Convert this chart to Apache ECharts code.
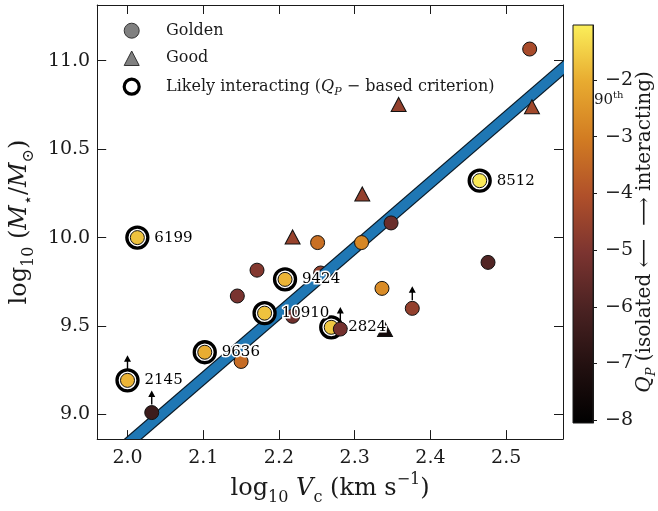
<!DOCTYPE html>
<html><head><meta charset="utf-8">
<script src="https://cdn.jsdelivr.net/npm/echarts@6/dist/echarts.min.js"></script>
<style>html,body{margin:0;padding:0;background:#fff}#c{width:658px;height:511px}</style>
</head><body><div id="c"></div>
<script>
// ---------- data ----------
const xTicks = [2.0, 2.1, 2.2, 2.3, 2.4, 2.5];
const yTicks = [9.0, 9.5, 10.0, 10.5, 11.0];
const cbTicks = [-8, -7, -6, -5, -4, -3, -2];

// regular (non-interacting) galaxies
const regX    = [2.032, 2.145, 2.150, 2.171, 2.218, 2.218, 2.251, 2.309, 2.348, 2.310, 2.281, 2.336, 2.340, 2.376, 2.531, 2.534, 2.358, 2.476, 2.255];
const regY    = [9.011, 9.670, 9.300, 9.816, 9.555, 10.004, 9.972, 9.972, 10.083, 10.247, 9.483, 9.713, 9.480, 9.600, 11.066, 10.740, 10.753, 9.860, 9.800];
const regQ    = [-6.4, -5.1, -3.4, -4.9, -5.3, -4.5, -3.3, -2.8, -5.4, -4.6, -5.2, -2.7, -7.5, -4.6, -4.2, -4.3, -4.6, -5.9, -4.6];
const regType = ['golden','golden','golden','golden','golden','good','golden','golden','golden','good','golden','golden','good','golden','golden','good','good','golden','golden'];
const regLimit= [1,0,0,0,0,0,0,0,0,0,1,0,0,1,0,0,0,0,0];
const regBelowLine = [0,0,0,0,0,0,0,0,0,0,0,0,0,0,0,0,0,0,1];

// likely interacting galaxies
const intName = ['6199', '9636', '2145', '9424', '10910', '2824', '8512'];
const intX    = [2.013, 2.102, 2.000, 2.208, 2.181, 2.269, 2.465];
const intY    = [10.000, 9.352, 9.193, 9.764, 9.573, 9.493, 10.322];
const intQ    = [-1.7, -2.0, -1.9, -1.9, -1.7, -1.6, -1.1];
const intLimit= [0, 0, 1, 0, 0, 0, 0];

// fitted relation (end points)
const fitX = [1.95, 2.60];
const fitY = [8.65, 11.05];

// colour map
const qMin = -8.05, qMax = -1.03;
const cmapColors = ['#000000', '#221010', '#4a2222', '#7c3430', '#b0502a', '#d27c22', '#e8ab30', '#fbef5a'];

// ---------- chart ----------
const FONT = 'DejaVu Serif';
const INK = '#1a1a1a';
const chart = echarts.init(document.getElementById('c'), null, {renderer: 'canvas'});

function regItem(i) {
  const good = regType[i] === 'good';
  return {value: [regX[i], regY[i], regQ[i]], symbol: good ? 'triangle' : 'circle', symbolSize: good ? [15, 14] : 14};
}
const regAbove = [], regBelow = [];
regX.forEach((_, i) => (regBelowLine[i] ? regBelow : regAbove).push(regItem(i)));
const intData = intX.map((x, i) => ({value: [x, intY[i], intQ[i]], name: intName[i]}));
const arrowPath = 'path://M3.5,0 L7,6.5 L4.2,6.5 L4.2,14 L2.8,14 L2.8,6.5 L0,6.5 Z';
const arrows = [];
regX.forEach((x, i) => { if (regLimit[i]) arrows.push({value: [x, regY[i]], symbolOffset: [0, -15]}); });
intX.forEach((x, i) => { if (intLimit[i]) arrows.push({value: [x, intY[i]], symbolOffset: [0, -18]}); });

const richBig = {
  n: {fontFamily: FONT, fontSize: 24, color: INK, lineHeight: 34},
  i: {fontFamily: FONT, fontSize: 24, color: INK, lineHeight: 34, fontStyle: 'italic'},
  s: {fontFamily: FONT, fontSize: 16, color: INK, lineHeight: 20, verticalAlign: 'bottom'},
  p: {fontFamily: FONT, fontSize: 16, color: INK, lineHeight: 20, verticalAlign: 'top'}
};
const stops = cmapColors.map((c, i) => ({offset: i / (cmapColors.length - 1), color: c}));

const axisCommon = {
  type: 'value',
  axisLine: {show: true, onZero: false, lineStyle: {color: INK, width: 1}},
  splitLine: {show: false}
};

const option = {
  animation: false,
  backgroundColor: '#fff',
  grid: [
    {left: 96, right: 95, top: 5, bottom: 70},
    {left: 573, width: 20, top: 25, height: 398}
  ],
  xAxis: [
    Object.assign({}, axisCommon, {
      gridIndex: 0, position: 'bottom', min: 1.96, max: 2.575,
      axisTick: {inside: true, length: 9, customValues: xTicks, lineStyle: {color: INK}},
      axisLabel: {customValues: xTicks, formatter: v => v.toFixed(1), fontFamily: FONT, fontSize: 19, color: INK, margin: 9},
      name: '{n|log}{s|10}{n| }{i|V}{s|c}{n| (km s}{p|−1}{n|)}',
      nameLocation: 'middle', nameGap: 31,
      nameTextStyle: {rich: richBig}
    }),
    Object.assign({}, axisCommon, {
      gridIndex: 0, position: 'top', min: 1.96, max: 2.575,
      axisTick: {inside: true, length: 9, customValues: xTicks, lineStyle: {color: INK}},
      axisLabel: {show: false}
    }),
    {type: 'value', gridIndex: 1, min: 0, max: 1, show: false}
  ],
  yAxis: [
    Object.assign({}, axisCommon, {
      gridIndex: 0, position: 'left', min: 8.861, max: 11.315,
      axisTick: {inside: true, length: 9, customValues: yTicks, lineStyle: {color: INK}},
      axisLabel: {customValues: yTicks, formatter: v => v.toFixed(1), fontFamily: FONT, fontSize: 19, color: INK, margin: 7},
      name: '{n|log}{s|10}{n| (}{i|M}{s|⋆}{n|/}{i|M}{s|⊙}{n|)}',
      nameLocation: 'middle', nameGap: 56,
      nameTextStyle: {rich: richBig}
    }),
    Object.assign({}, axisCommon, {
      gridIndex: 0, position: 'right', min: 8.861, max: 11.315,
      axisTick: {inside: true, length: 9, customValues: yTicks, lineStyle: {color: INK}},
      axisLabel: {show: false}
    }),
    Object.assign({}, axisCommon, {
      gridIndex: 1, position: 'right', min: qMin, max: qMax,
      axisTick: {inside: false, length: 4, customValues: cbTicks, lineStyle: {color: INK}},
      axisLabel: {customValues: cbTicks, formatter: v => '−' + Math.abs(v), fontFamily: FONT, fontSize: 19, color: INK, margin: 12}
    })
  ],
  visualMap: {
    type: 'continuous', show: false, min: qMin, max: qMax, dimension: 2,
    seriesIndex: [0, 3, 4], inRange: {color: cmapColors}
  },
  series: [
    { // 0 points below the relation
      type: 'scatter', xAxisIndex: 0, yAxisIndex: 0, z: 2, data: regBelow,
      itemStyle: {borderColor: '#111', borderWidth: 1, opacity: 1}
    },
    { // 1 fitted relation band
      type: 'custom', xAxisIndex: 0, yAxisIndex: 0, z: 3, clip: true, silent: true,
      data: [[fitX[0], fitY[0], fitX[1], fitY[1]]],
      renderItem: (params, api) => {
        const a = api.coord([api.value(0), api.value(1)]);
        const b = api.coord([api.value(2), api.value(3)]);
        return {type: 'group', children: [
          {type: 'line', shape: {x1: a[0], y1: a[1], x2: b[0], y2: b[1]}, style: {stroke: '#0b1a26', lineWidth: 12}},
          {type: 'line', shape: {x1: a[0], y1: a[1], x2: b[0], y2: b[1]}, style: {stroke: '#1f77b4', lineWidth: 9.6}}
        ]};
      }
    },
    { // 2 rings of interacting galaxies
      type: 'scatter', xAxisIndex: 0, yAxisIndex: 0, z: 4, silent: true,
      data: intData.map(d => d.value), symbol: 'circle', symbolSize: 21,
      itemStyle: {color: '#ffffff', borderColor: '#000', borderWidth: 3.3, opacity: 1}
    },
    { // 3 interacting galaxies
      type: 'scatter', xAxisIndex: 0, yAxisIndex: 0, z: 5,
      data: intData.map(d => d.value), symbol: 'circle', symbolSize: 14,
      itemStyle: {borderColor: '#111', borderWidth: 1, opacity: 1}
    },
    { // 4 other galaxies
      type: 'scatter', xAxisIndex: 0, yAxisIndex: 0, z: 6, data: regAbove,
      itemStyle: {borderColor: '#111', borderWidth: 1, opacity: 1}
    },
    { // 5 lower-limit arrows
      type: 'scatter', xAxisIndex: 0, yAxisIndex: 0, z: 7, silent: true,
      data: arrows, symbol: arrowPath, symbolSize: [7, 14],
      itemStyle: {color: '#000', opacity: 1}
    },
    { // 6 labels
      type: 'scatter', xAxisIndex: 0, yAxisIndex: 0, z: 8, silent: true,
      data: intData, symbol: 'circle', symbolSize: 14,
      itemStyle: {color: 'rgba(0,0,0,0)', borderWidth: 0},
      label: {show: true, position: 'right', distance: 10, formatter: p => p.name,
        fontFamily: FONT, fontSize: 15, color: '#000', opacity: 1, textBorderColor: '#fff', textBorderWidth: 3}
    },
    { // 7 colour bar
      type: 'custom', xAxisIndex: 2, yAxisIndex: 2, z: 2, silent: true,
      data: [[qMin, qMax]],
      renderItem: (params, api) => {
        const p0 = api.coord([0, api.value(0)]);
        const p1 = api.coord([1, api.value(1)]);
        return {type: 'rect', shape: {x: p0[0], y: p1[1], width: p1[0] - p0[0], height: p0[1] - p1[1]},
          style: {fill: new echarts.graphic.LinearGradient(0, 1, 0, 0, stops), stroke: INK, lineWidth: 1}};
      }
    }
  ],
  graphic: [
    {type: 'circle', shape: {cx: 131.7, cy: 30.7, r: 7.5}, style: {fill: '#808080', stroke: '#333', lineWidth: 1}},
    {type: 'polygon', shape: {points: [[124.2, 65.5], [139.2, 65.5], [131.7, 51]]}, style: {fill: '#808080', stroke: '#333', lineWidth: 1}},
    {type: 'circle', shape: {cx: 131.7, cy: 86.7, r: 7.5}, style: {fill: '#fff', stroke: '#000', lineWidth: 3.2}},
    {type: 'text', x: 166, y: 30.7, style: {text: 'Golden', font: '16px "DejaVu Serif"', fill: INK, verticalAlign: 'middle'}},
    {type: 'text', x: 166, y: 58.3, style: {text: 'Good', font: '16px "DejaVu Serif"', fill: INK, verticalAlign: 'middle'}},
    {type: 'text', x: 166, y: 86.7, style: {
      text: '{n|Likely interacting (}{i|Q}{s|P}{n| − based criterion)}', verticalAlign: 'middle',
      rich: {
        n: {fontFamily: FONT, fontSize: 16, fill: INK, lineHeight: 22},
        i: {fontFamily: FONT, fontSize: 16, fill: INK, lineHeight: 22, fontStyle: 'italic'},
        s: {fontFamily: FONT, fontSize: 11, fill: INK, lineHeight: 13, verticalAlign: 'bottom', fontStyle: 'italic'}
      }}},
    {type: 'text', x: 594, y: 100, style: {
      text: '{n|90}{p|th}', verticalAlign: 'middle',
      rich: {
        n: {fontFamily: FONT, fontSize: 15, fill: INK, lineHeight: 20},
        p: {fontFamily: FONT, fontSize: 10, fill: INK, lineHeight: 13, verticalAlign: 'top'}
      }}},
    {type: 'text', x: 645, y: 232, rotation: Math.PI / 2, style: {
      text: '{i|Q}{s|P}{n| (isolated ⟵  ⟶ interacting)}', align: 'center', verticalAlign: 'middle',
      rich: {
        n: {fontFamily: FONT, fontSize: 20, fill: INK, lineHeight: 26},
        i: {fontFamily: FONT, fontSize: 20, fill: INK, lineHeight: 26, fontStyle: 'italic'},
        s: {fontFamily: FONT, fontSize: 13, fill: INK, lineHeight: 15, verticalAlign: 'bottom', fontStyle: 'italic'}
      }}}
  ]
};
chart.setOption(option);
</script>
</body></html>
